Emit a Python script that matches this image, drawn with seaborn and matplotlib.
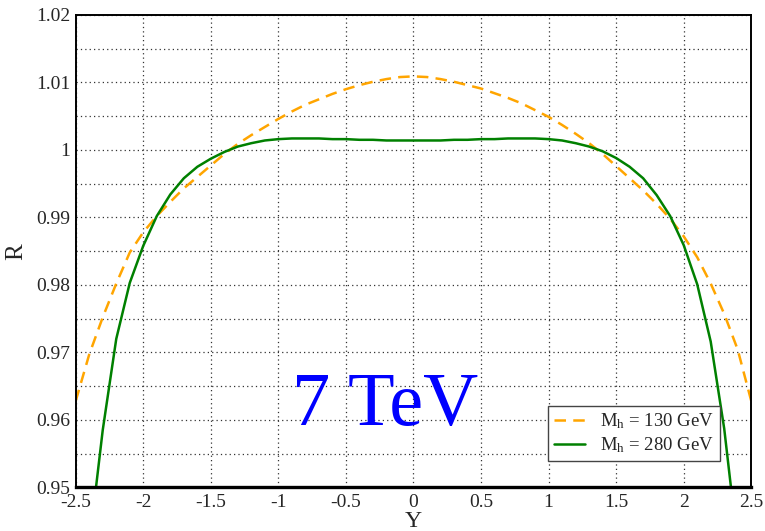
import numpy as np
import pandas as pd
import matplotlib
matplotlib.use("Agg")
import matplotlib.pyplot as plt
import seaborn as sns

# ---- data ----
y_130 = [-2.5, -2.4, -2.3, -2.2, -2.1, -2.0, -1.9, -1.8, -1.7, -1.6, -1.5, -1.4, -1.3,
         -1.2, -1.1, -1.0, -0.9, -0.8, -0.7, -0.6, -0.5, -0.4, -0.3, -0.2, -0.1, 0.0,
         0.1, 0.2, 0.3, 0.4, 0.5, 0.6, 0.7, 0.8, 0.9, 1.0, 1.1, 1.2, 1.3, 1.4, 1.5,
         1.6, 1.7, 1.8, 1.9, 2.0, 2.1, 2.2, 2.3, 2.4, 2.5]
r_130 = [0.9628, 0.9697, 0.9752, 0.9802, 0.9848, 0.9878, 0.9902, 0.9923, 0.9943, 0.9960, 0.9977, 0.9994, 1.0009,
         1.0022, 1.0034, 1.0046, 1.0057, 1.0067, 1.0075, 1.0083, 1.0090, 1.0096, 1.0101, 1.0105, 1.0108, 1.0109,
         1.0108, 1.0105, 1.0101, 1.0096, 1.0091, 1.0084, 1.0077, 1.0069, 1.0059, 1.0049, 1.0037, 1.0024, 1.0010, 0.9994, 0.9976,
         0.9958, 0.9940, 0.9920, 0.9898, 0.9872, 0.9841, 0.9802, 0.9757, 0.9704, 0.9628]

y_280 = [-2.35, -2.3, -2.2, -2.1, -2.0, -1.9, -1.8, -1.7, -1.6, -1.5, -1.4, -1.3, -1.2,
         -1.1, -1.0, -0.9, -0.8, -0.7, -0.6, -0.5, -0.4, -0.3, -0.2, -0.1, 0.0,
         0.1, 0.2, 0.3, 0.4, 0.5, 0.6, 0.7, 0.8, 0.9, 1.0, 1.1, 1.2, 1.3, 1.4,
         1.5, 1.6, 1.7, 1.8, 1.9, 2.0, 2.1, 2.2, 2.3, 2.35]
r_280 = [0.9500, 0.9585, 0.9720, 0.9803, 0.9858, 0.9902, 0.9934, 0.9958, 0.9975, 0.9987, 0.9997, 1.0005, 1.0010,
         1.0014, 1.0016, 1.0017, 1.0017, 1.0017, 1.0016, 1.0016, 1.0015, 1.0015, 1.0014, 1.0014, 1.0014,
         1.0014, 1.0014, 1.0015, 1.0015, 1.0016, 1.0016, 1.0017, 1.0017, 1.0017, 1.0016, 1.0014, 1.0010, 1.0005, 0.9998,
         0.9988, 0.9975, 0.9958, 0.9933, 0.9902, 0.9859, 0.9801, 0.9716, 0.9587, 0.9500]

label_130 = r"M$_{\mathrm{h}}$ = 130 GeV"
label_280 = r"M$_{\mathrm{h}}$ = 280 GeV"
x_ticks = [-2.5, -2.0, -1.5, -1.0, -0.5, 0.0, 0.5, 1.0, 1.5, 2.0, 2.5]
x_tick_labels = ["-2.5", "-2", "-1.5", "-1", "-0.5", "0", "0.5", "1", "1.5", "2", "2.5"]
r_ticks = [0.95, 0.96, 0.97, 0.98, 0.99, 1.00, 1.01, 1.02]
r_tick_labels = ["0.95", "0.96", "0.97", "0.98", "0.99", "1", "1.01", "1.02"]
annotation = "7 TeV"

sns.set_style("white")
plt.rcParams['font.family'] = ['Liberation Serif', 'DejaVu Serif']
plt.rcParams['mathtext.fontset'] = 'custom'
plt.rcParams['mathtext.rm'] = 'Liberation Serif'
plt.rcParams['mathtext.it'] = 'Liberation Serif:italic'

fig = plt.figure(figsize=(7.65, 5.31), dpi=100)
ax = fig.add_axes([0.099, 0.0823, 0.883, 0.8895])

df130 = pd.DataFrame({"Y": y_130, "R": r_130})
df280 = pd.DataFrame({"Y": y_280, "R": r_280})
sns.lineplot(data=df130, x="Y", y="R", ax=ax, color="#FFA500", linewidth=1.8,
             linestyle=(0, (4.6, 2.9)), label=label_130)
sns.lineplot(data=df280, x="Y", y="R", ax=ax, color="#008000", linewidth=1.8,
             label=label_280)

ax.set_xlim(-2.5, 2.5)
ax.set_ylim(0.95, 1.02)
ax.set_xticks(x_ticks)
ax.set_xticklabels(x_tick_labels)
ax.set_yticks(r_ticks)
ax.set_yticklabels(r_tick_labels)
ax.set_yticks(np.arange(0.955, 1.02, 0.01), minor=True)

ax.grid(True, which='major', axis='both', linestyle=(0, (1, 2.5)), color='#333333', linewidth=0.9)
ax.grid(True, which='minor', axis='y', linestyle=(0, (1, 2.5)), color='#333333', linewidth=0.9)
ax.tick_params(axis='both', which='major', labelsize=14, length=0)
ax.tick_params(axis='x', which='major', pad=5)
ax.tick_params(axis='y', which='major', pad=4)
ax.tick_params(axis='y', which='minor', length=0)

for s in ax.spines.values():
    s.set_color('black')
    s.set_linewidth(1.4)
ax.spines['bottom'].set_linewidth(2.4)

ax.set_xlabel("Y", fontsize=17, labelpad=0)
ax.set_ylabel("R", fontsize=18, labelpad=6)

ax.text(-0.21, 0.9592, annotation, color="#0000FF", fontsize=55, ha='center', va='baseline')

leg = ax.legend(loc='lower left', bbox_to_anchor=(0.699, 0.0557), fontsize=13.5,
                frameon=True, fancybox=False, edgecolor='#444444', framealpha=1,
                handlelength=1.7, borderpad=0.3, labelspacing=0.25, handletextpad=0.8,
                borderaxespad=0)
leg.get_frame().set_linewidth(1.0)

fig.savefig("out.png", dpi=100)
